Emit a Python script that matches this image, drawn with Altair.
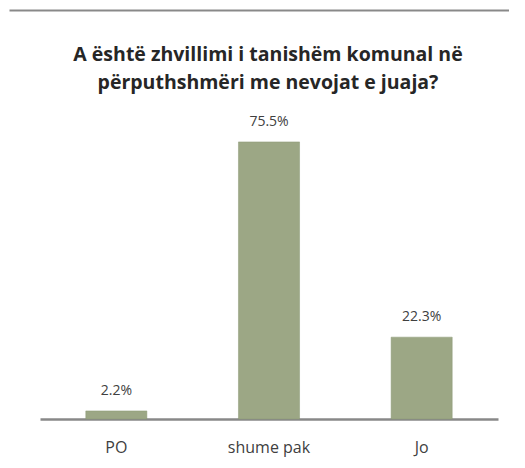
import altair as alt
import pandas as pd

categories = ["PO", "shume pak", "Jo"]
values = [2.2, 75.5, 22.3]
title_lines = ["A është zhvillimi i tanishëm komunal në", "përputhshmëri me nevojat e juaja?"]

df = pd.DataFrame({"category": categories, "value": values})

FONT = "Open Sans"
W, H = 500, 436
FRAME = "#898989"

x = alt.X(
    "category:N",
    sort=categories,
    scale=alt.Scale(range=[31, 489], paddingInner=0.6, paddingOuter=0.3),
    axis=alt.Axis(
        title=None,
        orient="bottom",
        offset=-27,
        ticks=False,
        domainColor="#888888",
        domainWidth=2.5,
        labelFont=FONT,
        labelFontSize=16,
        labelColor="#404040",
        labelPadding=20,
        labelAngle=0,
        grid=False,
    ),
)
y = alt.Y(
    "value:Q",
    scale=alt.Scale(domain=[-7.36, 111.44], nice=False, zero=False),
    axis=alt.Axis(
        orient="left", title=None, labels=False, ticks=False, grid=False,
        domainColor=FRAME, domainWidth=2,
    ),
)

bars = alt.Chart(df).mark_bar(color="#9ca785", stroke="#8a9874", strokeWidth=0.5).encode(
    x=x, y=y, y2=alt.datum(0)
)
labels = alt.Chart(df).transform_calculate(
    label="format(datum.value, '.1f') + '%'"
).mark_text(font=FONT, fontSize=14, color="#404040", baseline="alphabetic", dy=-16).encode(
    x=x, y=y, text="label:N"
)
# invisible layer whose top axis line forms the top edge of the frame
frame_top = alt.Chart(df).mark_point(opacity=0).encode(
    x=alt.X(
        "value:Q",
        scale=alt.Scale(domain=[0, 100], nice=False),
        axis=alt.Axis(
            orient="top", title=None, labels=False, ticks=False, grid=False,
            domainColor=FRAME, domainWidth=2,
        ),
    ),
    y=alt.Y("value:Q", axis=None),
)

chart = alt.layer(alt.layer(bars, labels), frame_top).resolve_scale(x="independent").properties(
    width=W,
    height=H,
    padding={"left": 1, "top": 2, "right": 0, "bottom": 10},
    title=alt.TitleParams(
        text=title_lines,
        font=FONT,
        fontSize=19.5,
        fontWeight="bold",
        color="#262626",
        anchor="middle",
        offset=-83,
        lineHeight=28,
        dx=9,
    ),
).configure_view(stroke=None)

chart.save("out.html", embed_options={"renderer": "svg", "actions": False})
